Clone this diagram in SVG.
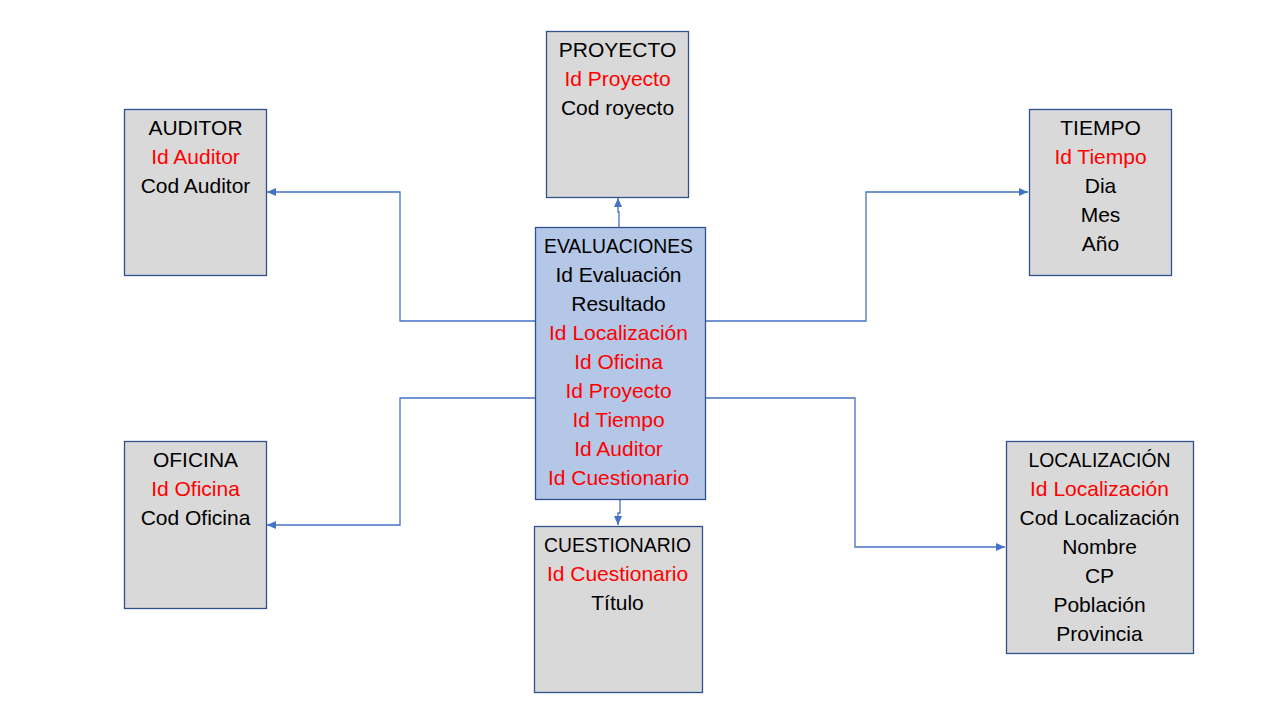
<svg xmlns="http://www.w3.org/2000/svg" width="1272" height="713" viewBox="0 0 1272 713">
<style>
.box{fill:#D9D9D9;stroke:#2F528F;stroke-width:1.3}
.main{fill:#B4C7E7;stroke:#2F528F;stroke-width:1.3}
text{font-family:"Liberation Sans",Arial,sans-serif;font-size:21px;text-anchor:middle;fill:#000}
.k{fill:#FF0000}
.c{fill:none;stroke:#4472C4;stroke-width:1.3;marker-end:url(#a)}
</style>
<defs>
<marker id="a" markerWidth="10" markerHeight="8" refX="9" refY="4" orient="auto" markerUnits="userSpaceOnUse">
<path d="M0,0 L9,4 L0,8 z" fill="#4472C4"/>
</marker>
</defs>
<rect width="1272" height="713" fill="#fff"/>
<g id="connectors">
<path class="c" d="M535,321 H400 V192 H267"/>
<path class="c" d="M619,227 V212 H618 V198"/>
<path class="c" d="M705,321 H866 V192 H1028"/>
<path class="c" d="M535,398 H400 V525 H267"/>
<path class="c" d="M705,398 H855 V547 H1005"/>
<path class="c" d="M620,499 V513 H618 V525"/>
</g>
<g id="auditor">
<rect class="box" x="124.5" y="109.5" width="142" height="166"/>
<text x="195.5" y="135">AUDITOR</text>
<text class="k" x="195.5" y="164">Id Auditor</text>
<text x="195.5" y="193">Cod Auditor</text>
</g>
<g id="proyecto">
<rect class="box" x="546.5" y="31.5" width="142" height="166"/>
<text x="617.5" y="57">PROYECTO</text>
<text class="k" x="617.5" y="86">Id Proyecto</text>
<text x="617.5" y="115">Cod royecto</text>
</g>
<g id="tiempo">
<rect class="box" x="1029.5" y="109.5" width="142" height="166"/>
<text x="1100.5" y="135">TIEMPO</text>
<text class="k" x="1100.5" y="164">Id Tiempo</text>
<text x="1100.5" y="193">Dia</text>
<text x="1100.5" y="222">Mes</text>
<text x="1100.5" y="251">Año</text>
</g>
<g id="evaluaciones">
<rect class="main" x="535.5" y="227.5" width="170" height="272"/>
<text x="618.5" y="253" textLength="149" lengthAdjust="spacingAndGlyphs">EVALUACIONES</text>
<text x="618.5" y="282">Id Evaluación</text>
<text x="618.5" y="311">Resultado</text>
<text class="k" x="618.5" y="340">Id Localización</text>
<text class="k" x="618.5" y="369">Id Oficina</text>
<text class="k" x="618.5" y="398">Id Proyecto</text>
<text class="k" x="618.5" y="427">Id Tiempo</text>
<text class="k" x="618.5" y="456">Id Auditor</text>
<text class="k" x="618.5" y="485">Id Cuestionario</text>
</g>
<g id="oficina">
<rect class="box" x="124.5" y="441.5" width="142" height="167"/>
<text x="195.5" y="467">OFICINA</text>
<text class="k" x="195.5" y="496">Id Oficina</text>
<text x="195.5" y="525">Cod Oficina</text>
</g>
<g id="cuestionario">
<rect class="box" x="534.5" y="526.5" width="168" height="166"/>
<text x="617.5" y="552" textLength="147" lengthAdjust="spacingAndGlyphs">CUESTIONARIO</text>
<text class="k" x="617.5" y="581">Id Cuestionario</text>
<text x="617.5" y="610">Título</text>
</g>
<g id="localizacion">
<rect class="box" x="1006.5" y="441.5" width="187" height="212"/>
<text x="1099.5" y="467" textLength="142" lengthAdjust="spacingAndGlyphs">LOCALIZACIÓN</text>
<text class="k" x="1099.5" y="496">Id Localización</text>
<text x="1099.5" y="525">Cod Localización</text>
<text x="1099.5" y="554">Nombre</text>
<text x="1099.5" y="583">CP</text>
<text x="1099.5" y="612">Población</text>
<text x="1099.5" y="641">Provincia</text>
</g>
</svg>
